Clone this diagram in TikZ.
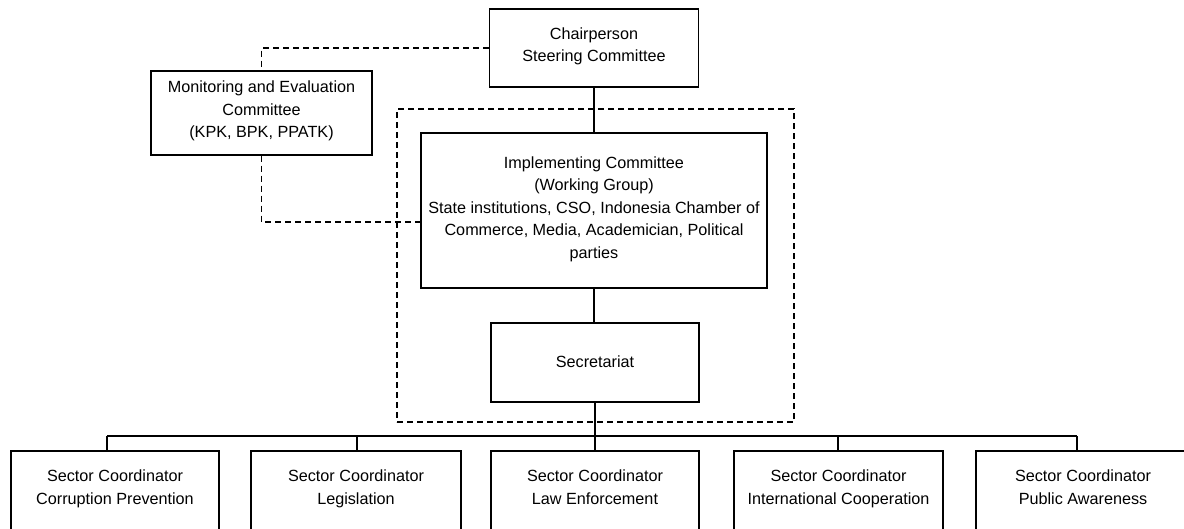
\documentclass[tikz,border=0pt]{standalone}
\usepackage{fontspec}
\setmainfont{Liberation Sans}
\begin{document}
\begin{tikzpicture}[x=1pt,y=-1pt,
  box/.style={draw, line width=1.2pt, inner sep=0pt, align=center,
    font=\fontsize{16.2}{22.5}\selectfont,
    execute at begin node=\strut, execute at end node=\strut},
  grpframe/.style={draw, line width=1.1pt, dash pattern=on 6pt off 4pt, inner sep=0pt},
  dashlink/.style={line width=1.1pt, dash pattern=on 6pt off 4pt},
  link/.style={line width=1.2pt}]
\useasboundingbox (0,0) rectangle (1184,528);
\node[grpframe, minimum width=397pt, minimum height=313pt] (grp) at (595.5,265.5) {};
\node[box, minimum width=209pt, minimum height=78pt] (chair) at (594,48) {Chairperson\\Steering Committee};
\node[box, minimum width=221pt, minimum height=84pt] (mon) at (261.5,113) {Monitoring and Evaluation\\Committee\\(KPK, BPK, PPATK)};
\node[box, fill=white, minimum width=346pt, minimum height=155pt] (impl) at (594,210.5) {Implementing Committee\\(Working Group)\\State institutions, CSO, Indonesia Chamber of\\Commerce, Media, Academician, Political\\parties};
\node[box, minimum width=208pt, minimum height=79pt] (sec) at (595,362.5) {Secretariat};
\node[box, minimum width=208pt, minimum height=79pt] (s1) at (115,490.5) {Sector Coordinator\\Corruption Prevention};
\node[box, minimum width=210pt, minimum height=79pt] (s2) at (356,490.5) {Sector Coordinator\\Legislation};
\node[box, minimum width=208pt, minimum height=79pt] (s3) at (595,490.5) {Sector Coordinator\\Law Enforcement};
\node[box, minimum width=209pt, minimum height=79pt] (s4) at (838.5,490.5) {Sector Coordinator\\International Cooperation};
\node[box, minimum width=214pt, minimum height=79pt] (s5) at (1083,490.5) {Sector Coordinator\\Public Awareness};
\coordinate (bus) at (595,436);
\coordinate (c1) at (107,436);
\coordinate (c2) at (357,436);
\coordinate (c4) at (838,436);
\coordinate (c5) at (1077,436);
\coordinate (mj) at (421,222);
% solid links
\draw[link] (chair.south) -- (impl.north);
\draw[link] (impl.south) -- (impl.south |- sec.north);
\draw[link] (sec.south) -- (s3.north);
\draw[link] (c1) -- (c5);
\draw[link] (c1) -- (c1 |- s1.north);
\draw[link] (c2) -- (c2 |- s2.north);
\draw[link] (c4) -- (c4 |- s4.north);
\draw[link] (c5) -- (c5 |- s5.north);
% dashed links
\draw[dashlink] (chair.west) -- (chair.west -| mon.north) -- (mon.north);
\draw[dashlink] (mon.south) -- (mon.south |- mj) -- (mj);
\end{tikzpicture}
\end{document}
